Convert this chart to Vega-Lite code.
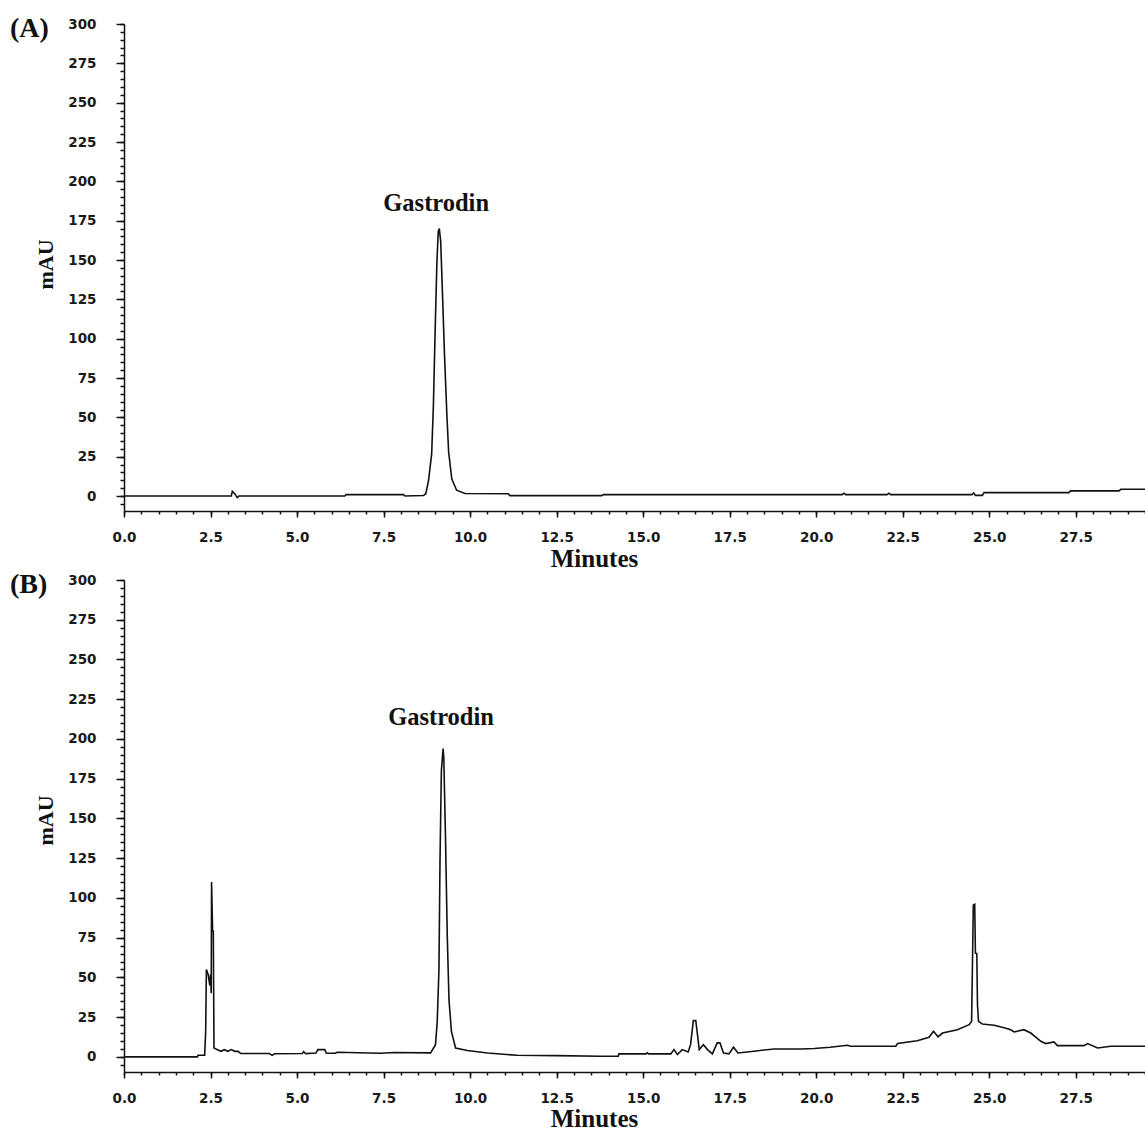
{
  "$schema": "https://vega.github.io/schema/vega-lite/v6.json",
  "background": "white",
  "padding": {"left": 10, "top": 15, "right": 0, "bottom": 0},
  "spacing": 0,
  "config": {"view": {"stroke": null}, "axis": {"grid": false}},
  "datasets": {
    "a": [
      {"min": 0, "mau": 0}, {"min": 3.1, "mau": 0}, {"min": 3.13, "mau": 3}, {"min": 3.2, "mau": 1.5}, {"min": 3.27, "mau": -1}, {"min": 3.32, "mau": 0},
      {"min": 6.38, "mau": 0}, {"min": 6.42, "mau": 0.9}, {"min": 8.08, "mau": 0.9}, {"min": 8.12, "mau": 0}, {"min": 8.65, "mau": 0.3},
      {"min": 8.72, "mau": 1.5}, {"min": 8.8, "mau": 10}, {"min": 8.89, "mau": 27}, {"min": 8.94, "mau": 58}, {"min": 8.99, "mau": 105},
      {"min": 9.04, "mau": 148}, {"min": 9.08, "mau": 168}, {"min": 9.11, "mau": 170}, {"min": 9.15, "mau": 162}, {"min": 9.2, "mau": 130},
      {"min": 9.26, "mau": 90}, {"min": 9.33, "mau": 51}, {"min": 9.38, "mau": 28}, {"min": 9.47, "mau": 11}, {"min": 9.61, "mau": 3.7},
      {"min": 9.85, "mau": 1.6}, {"min": 11.1, "mau": 1.5}, {"min": 11.15, "mau": 0.3}, {"min": 13.8, "mau": 0.3}, {"min": 13.85, "mau": 0.9},
      {"min": 20.75, "mau": 0.9}, {"min": 20.8, "mau": 1.8}, {"min": 20.85, "mau": 0.9}, {"min": 22.05, "mau": 0.9}, {"min": 22.1, "mau": 1.8},
      {"min": 22.15, "mau": 0.9}, {"min": 24.5, "mau": 0.9}, {"min": 24.55, "mau": 2}, {"min": 24.6, "mau": 0.4}, {"min": 24.8, "mau": 0.4},
      {"min": 24.85, "mau": 2.2}, {"min": 27.3, "mau": 2.2}, {"min": 27.35, "mau": 3.3}, {"min": 28.75, "mau": 3.3}, {"min": 28.8, "mau": 4.3},
      {"min": 29.5, "mau": 4.3}
    ],
    "b": [
      {"min": 0, "mau": 0}, {"min": 2.12, "mau": 0}, {"min": 2.14, "mau": 1}, {"min": 2.33, "mau": 1}, {"min": 2.36, "mau": 16},
      {"min": 2.38, "mau": 55}, {"min": 2.43, "mau": 52}, {"min": 2.48, "mau": 45}, {"min": 2.5, "mau": 52}, {"min": 2.52, "mau": 40},
      {"min": 2.53, "mau": 110}, {"min": 2.56, "mau": 79}, {"min": 2.58, "mau": 79}, {"min": 2.6, "mau": 5.6}, {"min": 2.7, "mau": 4.5},
      {"min": 2.8, "mau": 3.5}, {"min": 2.9, "mau": 4.5}, {"min": 3.0, "mau": 3.5}, {"min": 3.1, "mau": 4.6}, {"min": 3.2, "mau": 3.5},
      {"min": 3.3, "mau": 3.5}, {"min": 3.37, "mau": 2.1}, {"min": 4.2, "mau": 2.1}, {"min": 4.28, "mau": 1}, {"min": 4.35, "mau": 2},
      {"min": 5.15, "mau": 2.1}, {"min": 5.19, "mau": 3.3}, {"min": 5.25, "mau": 2.1}, {"min": 5.55, "mau": 2.5}, {"min": 5.6, "mau": 4.6},
      {"min": 5.8, "mau": 4.6}, {"min": 5.85, "mau": 2.3}, {"min": 6.1, "mau": 2.3}, {"min": 6.16, "mau": 2.9}, {"min": 7.4, "mau": 2.3},
      {"min": 7.8, "mau": 2.8}, {"min": 8.86, "mau": 2.5}, {"min": 9.0, "mau": 7.7}, {"min": 9.05, "mau": 22}, {"min": 9.1, "mau": 55},
      {"min": 9.13, "mau": 123}, {"min": 9.17, "mau": 180}, {"min": 9.22, "mau": 194}, {"min": 9.24, "mau": 188}, {"min": 9.29, "mau": 137},
      {"min": 9.34, "mau": 76}, {"min": 9.39, "mau": 36}, {"min": 9.46, "mau": 16}, {"min": 9.58, "mau": 5.6}, {"min": 9.92, "mau": 4},
      {"min": 10.5, "mau": 2.5}, {"min": 11.36, "mau": 1}, {"min": 12.5, "mau": 0.8}, {"min": 13.77, "mau": 0.4}, {"min": 14.28, "mau": 0.4},
      {"min": 14.3, "mau": 1.9}, {"min": 15.08, "mau": 1.9}, {"min": 15.12, "mau": 2.6}, {"min": 15.16, "mau": 1.9}, {"min": 15.8, "mau": 1.9},
      {"min": 15.89, "mau": 4.6}, {"min": 15.99, "mau": 1.5}, {"min": 16.13, "mau": 4.6}, {"min": 16.3, "mau": 3.1}, {"min": 16.37, "mau": 7.7},
      {"min": 16.45, "mau": 22.8}, {"min": 16.52, "mau": 22.8}, {"min": 16.57, "mau": 14}, {"min": 16.62, "mau": 4.6}, {"min": 16.74, "mau": 7.7},
      {"min": 16.86, "mau": 4.6}, {"min": 17.0, "mau": 1.9}, {"min": 17.14, "mau": 8.8}, {"min": 17.22, "mau": 8.8}, {"min": 17.32, "mau": 2.5},
      {"min": 17.48, "mau": 1.9}, {"min": 17.61, "mau": 6.1}, {"min": 17.74, "mau": 2.5}, {"min": 18.2, "mau": 3.6}, {"min": 18.78, "mau": 5},
      {"min": 19.55, "mau": 5}, {"min": 19.94, "mau": 5.3}, {"min": 20.4, "mau": 6.1}, {"min": 20.9, "mau": 7.3}, {"min": 21.0, "mau": 6.7},
      {"min": 22.3, "mau": 6.7}, {"min": 22.35, "mau": 8.4}, {"min": 22.92, "mau": 10.2}, {"min": 23.26, "mau": 12.3}, {"min": 23.39, "mau": 16.1},
      {"min": 23.52, "mau": 12.6}, {"min": 23.65, "mau": 15}, {"min": 24.08, "mau": 17.1}, {"min": 24.42, "mau": 20.3}, {"min": 24.49, "mau": 22.4},
      {"min": 24.51, "mau": 51.7}, {"min": 24.54, "mau": 95.6}, {"min": 24.58, "mau": 96}, {"min": 24.6, "mau": 65.3}, {"min": 24.64, "mau": 65},
      {"min": 24.66, "mau": 32.8}, {"min": 24.69, "mau": 22.4}, {"min": 24.8, "mau": 20.7}, {"min": 25.14, "mau": 19.9}, {"min": 25.43, "mau": 18.4},
      {"min": 25.62, "mau": 17.1}, {"min": 25.72, "mau": 15.7}, {"min": 26.0, "mau": 17.1}, {"min": 26.2, "mau": 15}, {"min": 26.49, "mau": 9.8},
      {"min": 26.63, "mau": 8.4}, {"min": 26.87, "mau": 9.4}, {"min": 26.97, "mau": 7.1}, {"min": 27.74, "mau": 7.1}, {"min": 27.84, "mau": 8.4},
      {"min": 28.13, "mau": 5.6}, {"min": 28.51, "mau": 6.7}, {"min": 29.5, "mau": 6.7}
    ],
    "labelA": [{"min": 9.02, "mau": 185.7, "label": "Gastrodin"}],
    "labelB": [{"min": 9.16, "mau": 213.4, "label": "Gastrodin"}]
  },
  "vconcat": [
    {
      "width": 1021,
      "height": 487,
      "title": {"text": "(A)", "anchor": "start", "frame": "group", "orient": "top", "offset": -40, "dx": -114, "baseline": "middle", "font": "Liberation Serif", "fontSize": 28, "fontWeight": "bold", "color": "#111"},
      "resolve": {"axis": {"x": "independent", "y": "independent"}},
      "layer": [
        {
          "data": {"name": "a"},
          "mark": {"type": "line", "color": "#111", "strokeWidth": 1.6, "clip": true},
          "encoding": {
            "x": {"field": "min", "type": "quantitative", "scale": {"domain": [0, 29.5], "nice": false, "zero": false},
              "axis": {"orient": "bottom", "values": [0, 2.5, 5, 7.5, 10, 12.5, 15, 17.5, 20, 22.5, 25, 27.5], "format": ".1f", "labelFont": "DejaVu Sans", "labelFontWeight": "bold", "labelFontSize": 13.5, "labelColor": "#1a1a1a", "labelPadding": 13, "labelFlush": false, "labelOverlap": false, "tickSize": 6, "tickWidth": 1.5, "tickColor": "#111", "domainColor": "#111", "domainWidth": 1.5, "grid": false, "title": "Minutes", "titleFont": "Liberation Serif", "titleFontSize": 25, "titleFontWeight": "bold", "titleColor": "#111", "titleX": 470, "titleY": 47, "titleAlign": "center", "titleBaseline": "middle"}},
            "y": {"field": "mau", "type": "quantitative", "scale": {"domain": [-9.5, 300], "nice": false, "zero": false},
              "axis": {"orient": "left", "values": [0, 25, 50, 75, 100, 125, 150, 175, 200, 225, 250, 275, 300], "labelFont": "DejaVu Sans", "labelFontWeight": "bold", "labelFontSize": 13.5, "labelColor": "#1a1a1a", "labelPadding": 20, "labelOverlap": false, "labelFlush": false, "tickSize": 8, "tickWidth": 1.5, "tickColor": "#111", "domainColor": "#111", "domainWidth": 1.5, "grid": false, "title": "mAU", "titleFont": "Liberation Serif", "titleFontSize": 22, "titleFontWeight": "bold", "titleColor": "#111", "titleX": -79, "titleY": 240, "titleAngle": 270, "titleAlign": "center", "titleBaseline": "middle"}}
          }
        },
        {
          "data": {"name": "labelA"},
          "mark": {"type": "text", "font": "Liberation Serif", "fontSize": 24.5, "fontWeight": "bold", "color": "#111", "align": "center", "baseline": "middle"},
          "encoding": {
            "x": {"field": "min", "type": "quantitative", "axis": {"orient": "bottom", "values": [0,0.5,1,1.5,2,2.5,3,3.5,4,4.5,5,5.5,6,6.5,7,7.5,8,8.5,9,9.5,10,10.5,11,11.5,12,12.5,13,13.5,14,14.5,15,15.5,16,16.5,17,17.5,18,18.5,19,19.5,20,20.5,21,21.5,22,22.5,23,23.5,24,24.5,25,25.5,26,26.5,27,27.5,28,28.5,29,29.5], "labels": false, "domain": false, "tickSize": 3, "tickWidth": 1.5, "tickColor": "#111", "grid": false, "title": null}},
            "y": {"field": "mau", "type": "quantitative", "axis": {"orient": "left", "values": [-5,0,5,10,15,20,25,30,35,40,45,50,55,60,65,70,75,80,85,90,95,100,105,110,115,120,125,130,135,140,145,150,155,160,165,170,175,180,185,190,195,200,205,210,215,220,225,230,235,240,245,250,255,260,265,270,275,280,285,290,295,300], "labels": false, "domain": false, "tickSize": 4, "tickWidth": 1.5, "tickColor": "#111", "grid": false, "title": null}},
            "text": {"field": "label"}
          }
        },
        {
          "mark": {"type": "rule", "color": "#111", "strokeWidth": 1.5},
          "encoding": {"y": {"datum": 300, "axis": null}}
        }
      ]
    },
    {
      "width": 1021,
      "height": 492,
      "title": {"text": "(B)", "anchor": "start", "frame": "group", "orient": "top", "offset": -40, "dx": -114, "baseline": "middle", "font": "Liberation Serif", "fontSize": 28, "fontWeight": "bold", "color": "#111"},
      "resolve": {"axis": {"x": "independent", "y": "independent"}},
      "layer": [
        {
          "data": {"name": "b"},
          "mark": {"type": "line", "color": "#111", "strokeWidth": 1.6, "clip": true},
          "encoding": {
            "x": {"field": "min", "type": "quantitative", "scale": {"domain": [0, 29.5], "nice": false, "zero": false},
              "axis": {"orient": "bottom", "values": [0, 2.5, 5, 7.5, 10, 12.5, 15, 17.5, 20, 22.5, 25, 27.5], "format": ".1f", "labelFont": "DejaVu Sans", "labelFontWeight": "bold", "labelFontSize": 13.5, "labelColor": "#1a1a1a", "labelPadding": 13, "labelFlush": false, "labelOverlap": false, "tickSize": 6, "tickWidth": 1.5, "tickColor": "#111", "domainColor": "#111", "domainWidth": 1.5, "grid": false, "title": "Minutes", "titleFont": "Liberation Serif", "titleFontSize": 25, "titleFontWeight": "bold", "titleColor": "#111", "titleX": 470, "titleY": 46, "titleAlign": "center", "titleBaseline": "middle"}},
            "y": {"field": "mau", "type": "quantitative", "scale": {"domain": [-9.5, 300], "nice": false, "zero": false},
              "axis": {"orient": "left", "values": [0, 25, 50, 75, 100, 125, 150, 175, 200, 225, 250, 275, 300], "labelFont": "DejaVu Sans", "labelFontWeight": "bold", "labelFontSize": 13.5, "labelColor": "#1a1a1a", "labelPadding": 20, "labelOverlap": false, "labelFlush": false, "tickSize": 8, "tickWidth": 1.5, "tickColor": "#111", "domainColor": "#111", "domainWidth": 1.5, "grid": false, "title": "mAU", "titleFont": "Liberation Serif", "titleFontSize": 22, "titleFontWeight": "bold", "titleColor": "#111", "titleX": -79, "titleY": 240, "titleAngle": 270, "titleAlign": "center", "titleBaseline": "middle"}}
          }
        },
        {
          "data": {"name": "labelB"},
          "mark": {"type": "text", "font": "Liberation Serif", "fontSize": 24.5, "fontWeight": "bold", "color": "#111", "align": "center", "baseline": "middle"},
          "encoding": {
            "x": {"field": "min", "type": "quantitative", "axis": {"orient": "bottom", "values": [0,0.5,1,1.5,2,2.5,3,3.5,4,4.5,5,5.5,6,6.5,7,7.5,8,8.5,9,9.5,10,10.5,11,11.5,12,12.5,13,13.5,14,14.5,15,15.5,16,16.5,17,17.5,18,18.5,19,19.5,20,20.5,21,21.5,22,22.5,23,23.5,24,24.5,25,25.5,26,26.5,27,27.5,28,28.5,29,29.5], "labels": false, "domain": false, "tickSize": 3, "tickWidth": 1.5, "tickColor": "#111", "grid": false, "title": null}},
            "y": {"field": "mau", "type": "quantitative", "axis": {"orient": "left", "values": [-5,0,5,10,15,20,25,30,35,40,45,50,55,60,65,70,75,80,85,90,95,100,105,110,115,120,125,130,135,140,145,150,155,160,165,170,175,180,185,190,195,200,205,210,215,220,225,230,235,240,245,250,255,260,265,270,275,280,285,290,295,300], "labels": false, "domain": false, "tickSize": 4, "tickWidth": 1.5, "tickColor": "#111", "grid": false, "title": null}},
            "text": {"field": "label"}
          }
        },
        {
          "mark": {"type": "rule", "color": "#111", "strokeWidth": 1.5},
          "encoding": {"y": {"datum": 300, "axis": null}}
        }
      ]
    }
  ]
}
